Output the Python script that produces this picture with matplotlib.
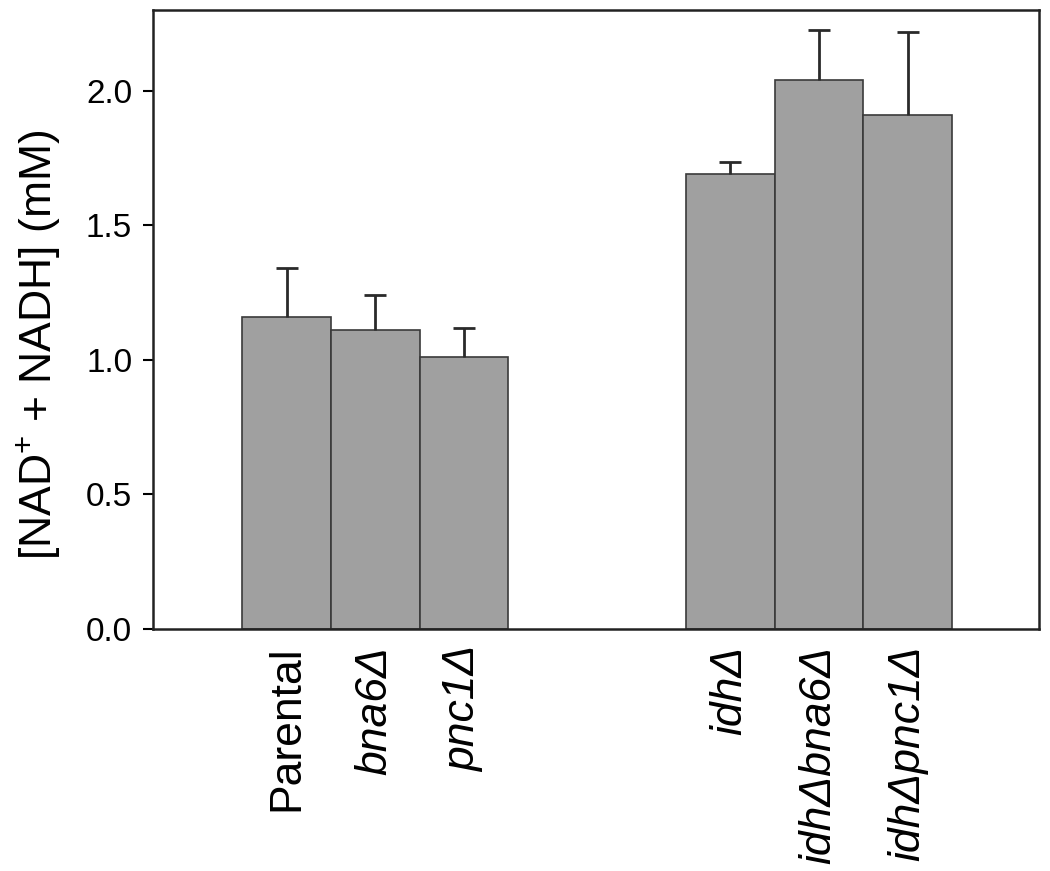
import matplotlib
matplotlib.use('Agg')
import matplotlib.pyplot as plt
import numpy as np

plt.rcParams['font.family'] = ['Liberation Sans', 'DejaVu Sans']
plt.rcParams['mathtext.fontset'] = 'custom'
plt.rcParams['mathtext.rm'] = 'Liberation Sans'
plt.rcParams['mathtext.it'] = 'Liberation Sans:italic'

strains = ['Parental', 'bna6Δ', 'pnc1Δ', 'idhΔ', 'idhΔbna6Δ', 'idhΔpnc1Δ']
italic = [False, True, True, True, True, True]
positions = [1, 2, 3, 6, 7, 8]
nad_total = [1.16, 1.11, 1.01, 1.69, 2.04, 1.91]
nad_err = [0.18, 0.13, 0.11, 0.045, 0.185, 0.31]

fig = plt.figure(figsize=(10.5, 8.71), dpi=100)
ax = fig.add_axes([153 / 1050, (871 - 629) / 871, 886 / 1050, 619 / 871])

ax.bar(positions, nad_total, width=1.0, color='#a0a0a0', edgecolor='#3a3a3a', linewidth=1.2, zorder=2)
eb = ax.errorbar(positions, nad_total, yerr=[np.zeros(len(nad_err)), nad_err], fmt='none',
                 ecolor='#2a2a2a', elinewidth=2, capsize=8, capthick=2, zorder=3)
# only the upper cap, as in the original
eb[1][0].set_visible(False)

ax.set_xlim(-0.505, 9.48)
ax.set_ylim(0, 2.3)
ax.set_yticks([0.0, 0.5, 1.0, 1.5, 2.0])
ax.set_yticklabels(['0.0', '0.5', '1.0', '1.5', '2.0'])
ax.set_xticks(positions)
ax.set_xticklabels(strains, rotation=90, fontsize=32)
for lab, it in zip(ax.get_xticklabels(), italic):
    if it:
        lab.set_style('italic')

ax.tick_params(axis='y', labelsize=24, length=7, width=1.5, pad=8, direction='out')
ax.tick_params(axis='x', length=0, pad=12)
for sp in ax.spines.values():
    sp.set_linewidth(1.8)
    sp.set_color('#222222')

ax.set_ylabel(r'[NAD$^{+}$ + NADH] (mM)', fontsize=32)
ax.yaxis.set_label_coords(-0.103, 0.46)

fig.savefig('out.png', dpi=100)
